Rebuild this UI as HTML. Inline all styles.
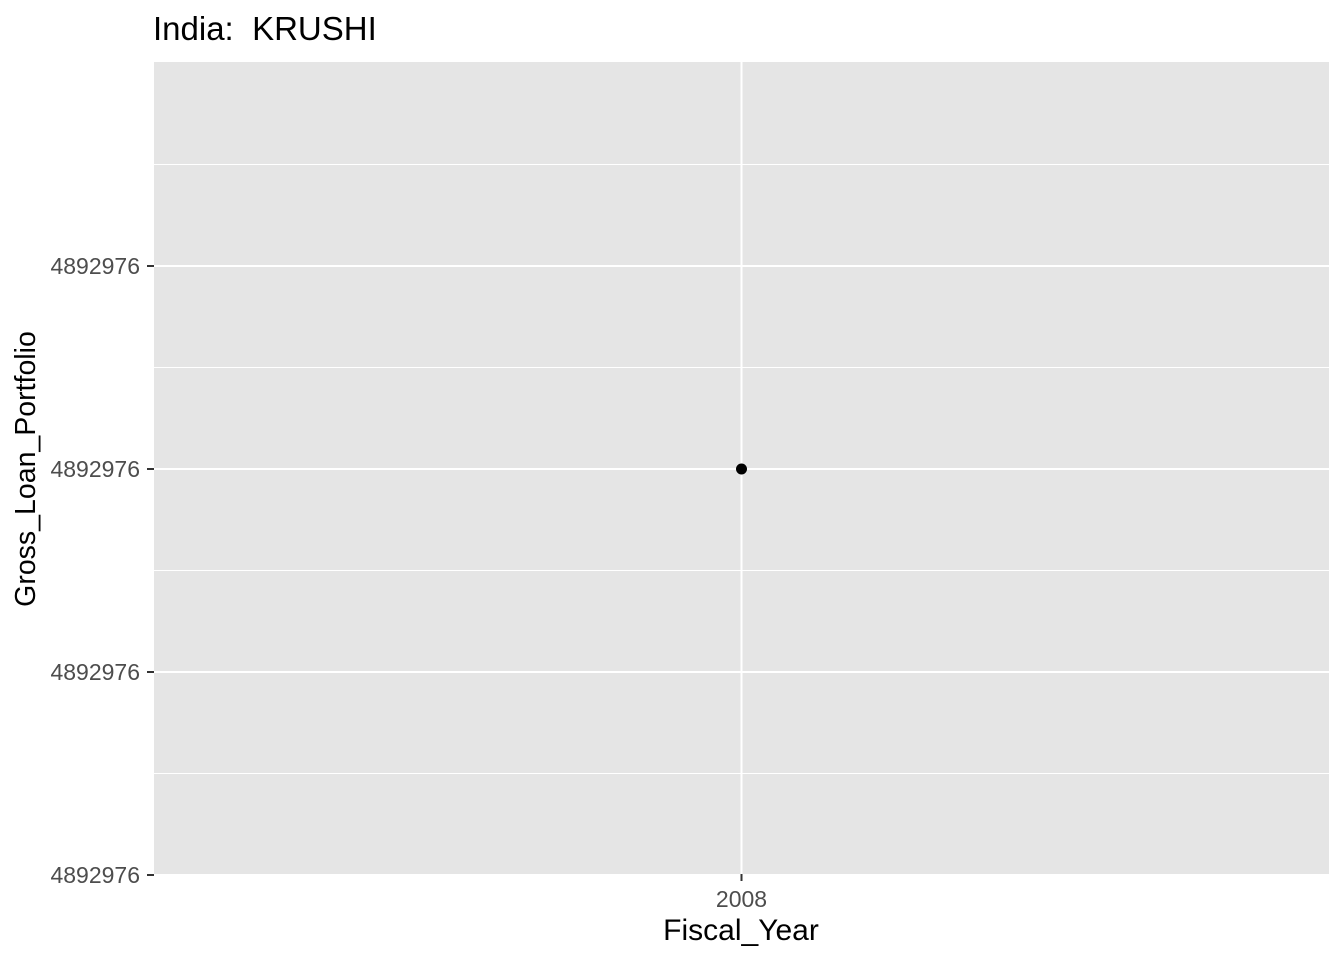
<!DOCTYPE html>
<html><head><meta charset="utf-8"><style>
body{margin:0;background:#fff;font-family:"Liberation Sans",Arial,sans-serif;}
svg{display:block}
text{white-space:pre}
</style></head><body>
<svg id="chart" width="1344" height="960">
<text x="153" y="40" style="font-size:33px" fill="#000">India:  KRUSHI</text>
<rect x="154" y="62" width="1175" height="812" fill="#e5e5e5"/>
<g id="grid"></g><g id="axes"></g><g id="marks"></g>
<text x="741" y="940" style="font-size:30px" text-anchor="middle" fill="#000">Fiscal_Year</text>
<text transform="translate(35,469) rotate(-90)" style="font-size:28.5px" text-anchor="middle" fill="#000">Gross_Loan_Portfolio</text>
</svg>
<script>
const categories = ["2008"];
const values = [4892976];
const yTickOffsets = [-2, -1, 0, 1];
const yTickLabels = ["4892976", "4892976", "4892976", "4892976"];
const NS = "http://www.w3.org/2000/svg";
const L = 154, R = 1329, T = 62, B = 874;
const v0 = values[0], d = 0.0001;
const yMin = v0 - 2 * d, yMax = v0 + 2 * d;
function y(v){ return 875 - (v - yMin) / (yMax - yMin) * (875 - 63); }
function x(c){ const i = categories.indexOf(c); return L + (R - L) * (i + 0.5) / categories.length; }
function mk(tag, attrs, parent){ const e = document.createElementNS(NS, tag); for (const k in attrs) e.setAttribute(k, attrs[k]); document.getElementById(parent).appendChild(e); return e; }
for (let i = 0; i < yTickOffsets.length; i++) {
  const yy = y(v0 + (yTickOffsets[i] + 0.5) * d);
  if (yy > T && yy < B) {
    const g = mk("line", {x1: L, x2: R, y1: yy, y2: yy, stroke: "#fff", "stroke-width": 1}, "grid");
    
    
  }
}
yTickOffsets.forEach((o, i) => {
  const yy = y(v0 + o * d);
  const g = mk("line", {x1: L, x2: R, y1: yy, y2: yy, stroke: "#fff", "stroke-width": 2}, "grid");
  
  
  const t = mk("line", {x1: 147, x2: 154, y1: yy, y2: yy, stroke: "#333", "stroke-width": 2}, "axes");
  
  
  const lb = mk("text", {x: 140, y: yy + 8, style: "font-size:23px", "text-anchor": "end", fill: "#4d4d4d"}, "axes");
  lb.textContent = yTickLabels[i];
  
  
});
categories.forEach((c, i) => {
  const xx = x(c);
  const g = mk("line", {x1: xx, x2: xx, y1: T, y2: B, stroke: "#fff", "stroke-width": 2}, "grid");
  
  
  const t = mk("line", {x1: xx, x2: xx, y1: 874, y2: 881, stroke: "#333", "stroke-width": 2}, "axes");
  
  
  const lb = mk("text", {x: xx, y: 907, style: "font-size:23px", "text-anchor": "middle", fill: "#4d4d4d"}, "axes");
  lb.textContent = c;
  
  
  const p = mk("circle", {cx: xx, cy: y(values[i]), r: 5.5, fill: "#000"}, "marks");
  
  
});
</script>
</body></html>
